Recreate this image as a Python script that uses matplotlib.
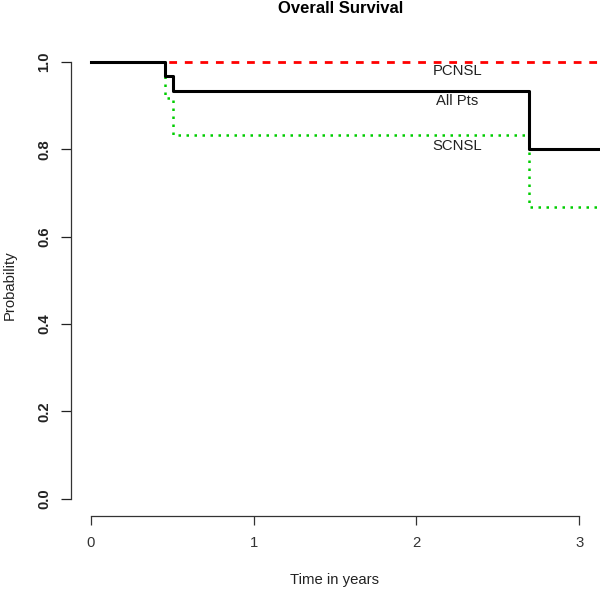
import numpy as np
import matplotlib as mpl
mpl.use('Agg')
import matplotlib.pyplot as plt

plt.rcParams['font.family'] = ['Liberation Sans', 'DejaVu Sans']

# Kaplan-Meier estimates
time_all = [0.0, 0.453, 0.502, 2.694, 3.2]
surv_all = [1.0, 0.967, 0.933, 0.800, 0.800]

time_scnsl = [0.0, 0.453, 0.502, 2.694, 3.2]
surv_scnsl = [1.0, 0.917, 0.833, 0.667, 0.667]

time_pcnsl = [0.0, 3.2]
surv_pcnsl = [1.0, 1.0]

xticks = [0, 1, 2, 3]
yticks = [0.0, 0.2, 0.4, 0.6, 0.8, 1.0]

W, H = 600, 589
fig = plt.figure(figsize=(W/100, H/100), dpi=100)
ax = fig.add_axes([71/W, (H-516)/H, (W-71)/W, (516-44.5)/H])

ax.step(time_pcnsl, surv_pcnsl, where='post', color='#FF0000', lw=2.0,
        dashes=(2.8, 2.8))
ax.step(time_scnsl, surv_scnsl, where='post', color='#00CD00', lw=1.8,
        dashes=(1.0, 2.2))
ax.step(time_all, surv_all, where='post', color='black', lw=2.2)

lab_kw = dict(ha='center', va='center', fontsize=10.7, color='#222222')
ax.text(2.25, 0.98, 'PCNSL', **lab_kw)
ax.text(2.25, 0.91, 'All Pts', **lab_kw)
ax.text(2.25, 0.808, 'SCNSL', **lab_kw)

ax.set_xlim(-0.123, 3.128)
ax.set_ylim(-0.04, 1.04)

# R-like axes
for s in ['top', 'right']:
    ax.spines[s].set_visible(False)
ax.spines['left'].set_bounds(0, 1)
ax.spines['bottom'].set_bounds(0, 3)
for s in ['left', 'bottom']:
    ax.spines[s].set_color('#333333')
    ax.spines[s].set_linewidth(0.9)

ax.set_xticks(xticks)
ax.set_xticklabels([str(v) for v in xticks])
ax.set_yticks(yticks)
ax.set_yticklabels(['%.1f' % v for v in yticks], rotation=90, va='center',
                   fontweight='bold')
ax.tick_params(axis='x', direction='out', length=6.5, width=0.9, pad=8,
               labelsize=10.7, colors='#333333')
ax.tick_params(axis='y', direction='out', length=7, width=0.9, pad=7,
               labelsize=10.7, colors='#222222')

fig.text(341/W, 1-13/H, 'Overall Survival', ha='center', va='baseline',
         fontsize=12, fontweight='bold')
fig.text(335/W, 1-580/H, 'Time in years', ha='center', va='center',
         fontsize=10.7, color='#222222')
fig.text(10/W, 1-285/H, 'Probability', ha='center', va='center',
         rotation=90, fontsize=10.7, color='#222222')

fig.savefig('out.png', dpi=100)
